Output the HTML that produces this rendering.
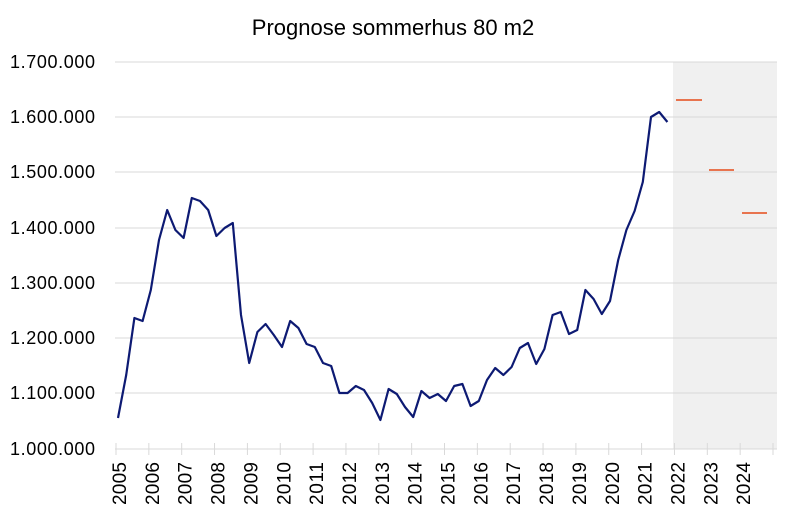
<!DOCTYPE html>
<html><head><meta charset="utf-8"><style>body{margin:0;background:#fff}svg{display:block}</style></head>
<body>
<svg width="787" height="514" xmlns="http://www.w3.org/2000/svg" font-family="Liberation Sans, sans-serif">
<rect x="673" y="62" width="104" height="387" fill="#f0f0f0"/>
<g stroke="#d9d9d9" stroke-width="1">
<line x1="115" x2="777" y1="62" y2="62"/><line x1="115" x2="777" y1="117" y2="117"/><line x1="115" x2="777" y1="172" y2="172"/><line x1="115" x2="777" y1="228" y2="228"/><line x1="115" x2="777" y1="283" y2="283"/><line x1="115" x2="777" y1="338" y2="338"/><line x1="115" x2="777" y1="393" y2="393"/><line x1="115" x2="777" y1="449" y2="449"/>
<line x1="116" x2="116" y1="443" y2="455"/><line x1="148.85" x2="148.85" y1="443" y2="455"/><line x1="181.7" x2="181.7" y1="443" y2="455"/><line x1="214.55" x2="214.55" y1="443" y2="455"/><line x1="247.4" x2="247.4" y1="443" y2="455"/><line x1="280.25" x2="280.25" y1="443" y2="455"/><line x1="313.1" x2="313.1" y1="443" y2="455"/><line x1="345.95" x2="345.95" y1="443" y2="455"/><line x1="378.8" x2="378.8" y1="443" y2="455"/><line x1="411.65" x2="411.65" y1="443" y2="455"/><line x1="444.5" x2="444.5" y1="443" y2="455"/><line x1="477.35" x2="477.35" y1="443" y2="455"/><line x1="510.2" x2="510.2" y1="443" y2="455"/><line x1="543.05" x2="543.05" y1="443" y2="455"/><line x1="575.9" x2="575.9" y1="443" y2="455"/><line x1="608.75" x2="608.75" y1="443" y2="455"/><line x1="641.6" x2="641.6" y1="443" y2="455"/><line x1="674.45" x2="674.45" y1="443" y2="455"/><line x1="707.3" x2="707.3" y1="443" y2="455"/><line x1="740.15" x2="740.15" y1="443" y2="455"/><line x1="773" x2="773" y1="443" y2="455"/>
</g>
<g font-size="18" fill="#000" text-anchor="end">
<text x="95" y="68" textLength="85">1.700.000</text><text x="95" y="123" textLength="85">1.600.000</text><text x="95" y="178" textLength="85">1.500.000</text><text x="95" y="234" textLength="85">1.400.000</text><text x="95" y="289" textLength="85">1.300.000</text><text x="95" y="344" textLength="85">1.200.000</text><text x="95" y="399" textLength="85">1.100.000</text><text x="95" y="455" textLength="85">1.000.000</text>
</g>
<text x="393" y="35" font-size="22" text-anchor="middle">Prognose sommerhus 80 m2</text>
<g font-size="19" fill="#000">
<text transform="translate(126,505) rotate(-90)" textLength="43">2005</text>
<text transform="translate(158.85,505) rotate(-90)" textLength="43">2006</text>
<text transform="translate(191.7,505) rotate(-90)" textLength="43">2007</text>
<text transform="translate(224.55,505) rotate(-90)" textLength="43">2008</text>
<text transform="translate(257.4,505) rotate(-90)" textLength="43">2009</text>
<text transform="translate(290.25,505) rotate(-90)" textLength="43">2010</text>
<text transform="translate(323.1,505) rotate(-90)" textLength="43">2011</text>
<text transform="translate(355.95,505) rotate(-90)" textLength="43">2012</text>
<text transform="translate(388.8,505) rotate(-90)" textLength="43">2013</text>
<text transform="translate(421.65,505) rotate(-90)" textLength="43">2014</text>
<text transform="translate(454.5,505) rotate(-90)" textLength="43">2015</text>
<text transform="translate(487.35,505) rotate(-90)" textLength="43">2016</text>
<text transform="translate(520.2,505) rotate(-90)" textLength="43">2017</text>
<text transform="translate(553.05,505) rotate(-90)" textLength="43">2018</text>
<text transform="translate(585.9,505) rotate(-90)" textLength="43">2019</text>
<text transform="translate(618.75,505) rotate(-90)" textLength="43">2020</text>
<text transform="translate(651.6,505) rotate(-90)" textLength="43">2021</text>
<text transform="translate(684.45,505) rotate(-90)" textLength="43">2022</text>
<text transform="translate(717.3,505) rotate(-90)" textLength="43">2023</text>
<text transform="translate(750.15,505) rotate(-90)" textLength="43">2024</text>
</g>
<polyline id="ln" fill="none" stroke="#0d1a73" stroke-width="2.2" stroke-linejoin="round"/>
<g stroke="#e8744f" stroke-width="2">
<line x1="676" x2="702" y1="100" y2="100"/><line x1="709" x2="734" y1="170" y2="170"/><line x1="742" x2="767" y1="213" y2="213"/>
</g>
<script>
var ys=[418,375,318,321,290,240,210,230,238,198,201,210,236,228,223,315,363,332,324,335,347,321,328,344,347,363,366,393,393,386,390,403,420,389,394,407,417,391,398,394,401,386,384,406,401,380,368,375,367,348,343,364,349,315,312,334,330,290,299,314,301,260,230,211,182,117,112,122];
var p=ys.map(function(y,i){return (118+i*8.2).toFixed(1)+","+y}).join(" ");
document.getElementById("ln").setAttribute("points",p);
</script>
</svg>
</body></html>
